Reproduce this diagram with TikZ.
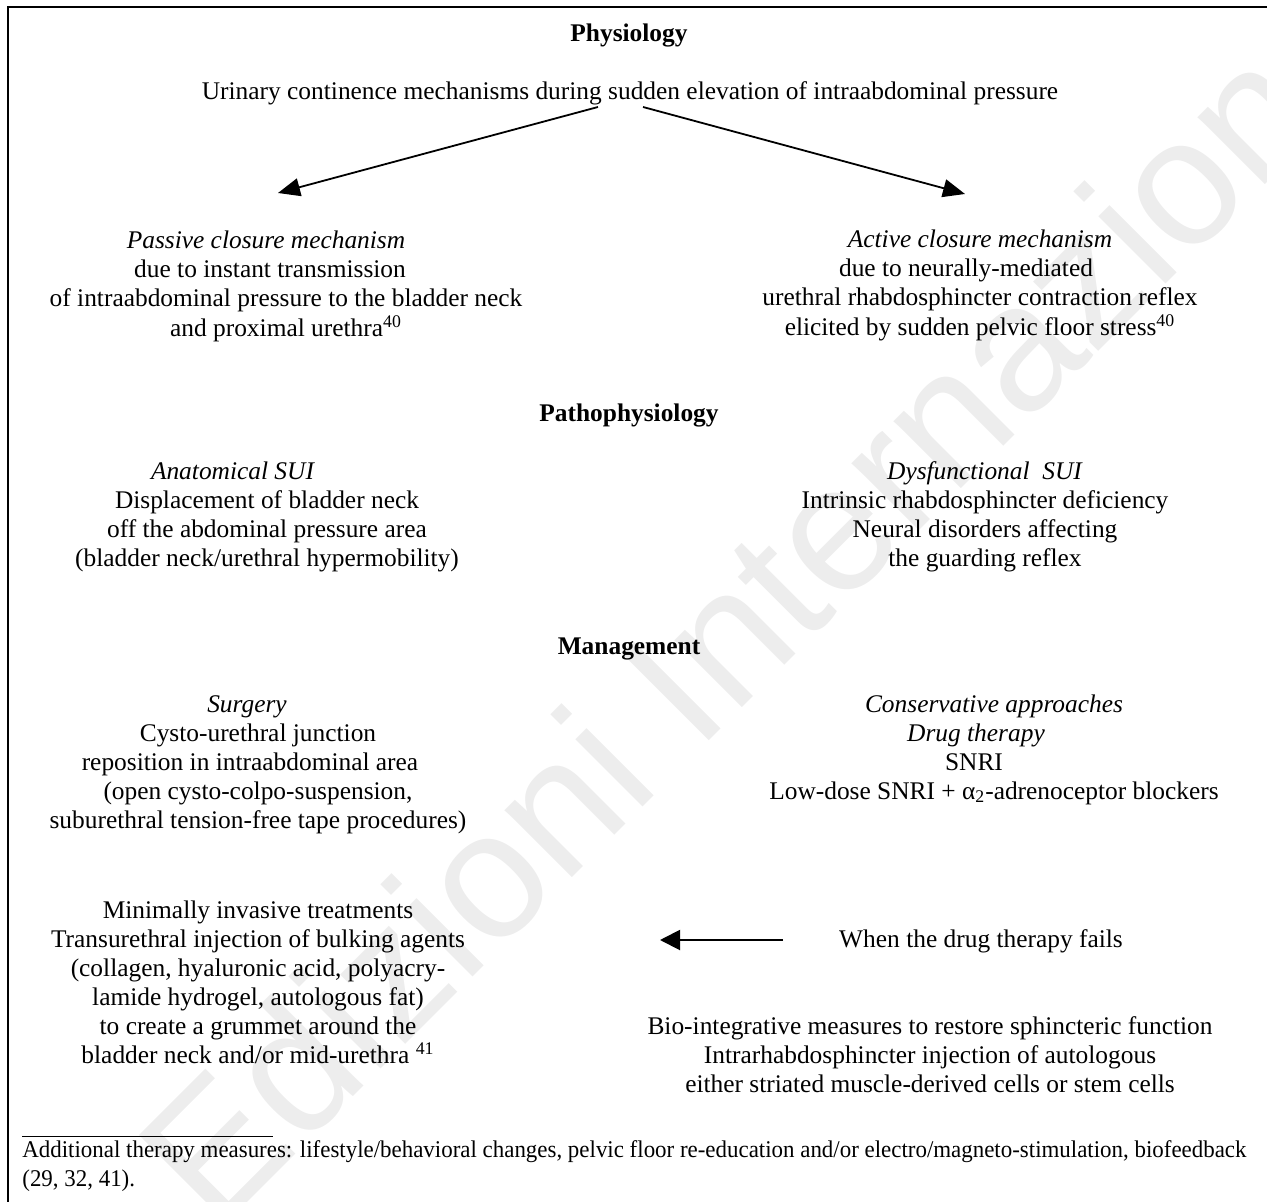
\documentclass[tikz,border=0pt]{standalone}
\usepackage{fontspec}
\setmainfont{Liberation Serif}
\newfontfamily\wmfont{Liberation Sans}
\usepackage{graphicx}
\usetikzlibrary{arrows.meta}
\newcommand\blk[1]{\begin{tabular}[t]{@{}c@{}}#1\end{tabular}}
\begin{document}
\begin{tikzpicture}[x=0.5pt,y=-0.5pt,
  txt/.style={inner sep=0pt, anchor=base, font=\fontsize{12.7}{14.5}\selectfont},
  head/.style={inner sep=0pt, anchor=base, font=\fontsize{12.7}{14.5}\selectfont\bfseries},
  arr/.style={line width=0.9pt, -{Triangle[length=11pt,width=9pt]}},
  harr/.style={line width=1pt, -{Triangle[length=10pt,width=10pt]}},
  wm/.style={inner sep=0pt, anchor=base, rotate=45, text=black!7, font=\fontsize{90}{90}\wmfont}]
\useasboundingbox (0,0) rectangle (1267,1202);
% watermark
\node[wm] (wmark) at (836,614) {Edizioni Internazionali};
% frame
\draw[line width=0.6pt] (8,1202) -- (8,7) -- (1267,7);
% physiology
\node[head] (phys) at (629,42) {Physiology};
\node[txt] (urin) at (630,100) {Urinary continence mechanisms during sudden elevation of intraabdominal pressure};
\node[txt] (passive) at (286,249) {\blk{\textit{Passive closure mechanism}\hspace*{20pt}\\
 due to instant transmission\hspace*{16pt}\\
 of intraabdominal pressure to the bladder neck\\
 and proximal urethra\textsuperscript{40}}};
\node[txt] (active) at (980,248) {\blk{\textit{Active closure mechanism}\\
 due to neurally-mediated\hspace*{14pt}\\
 urethral rhabdosphincter contraction reflex\\
 elicited by sudden pelvic floor stress\textsuperscript{40}}};
\coordinate (a1s) at (598,107);
\coordinate (a1e) at (278,193);
\coordinate (a2s) at (643,107);
\coordinate (a2e) at (965,194);
\draw[arr] (a1s) -- (a1e);
\draw[arr] (a2s) -- (a2e);
% pathophysiology
\node[head] (patho) at (629,422) {Pathophysiology};
\node[txt] (anat) at (267,480) {\blk{\textit{Anatomical SUI}\hspace*{34pt}\\
 Displacement of bladder neck\\
 off the abdominal pressure area\\
 (bladder neck/urethral hypermobility)}};
\node[txt] (dysf) at (985,480) {\blk{\textit{Dysfunctional\ \ SUI}\\
 Intrinsic rhabdosphincter deficiency\\
 Neural disorders affecting\\
 the guarding reflex}};
% management
\node[head] (mgmt) at (629,654) {Management};
\node[txt] (surg) at (258,712) {\blk{\textit{Surgery}\hspace*{11pt}\\
 Cysto-urethral junction\\
 reposition in intraabdominal area\hspace*{8pt}\\
 (open cysto-colpo-suspension,\\
 suburethral tension-free tape procedures)}};
\node[txt] (cons) at (994,712) {\blk{\textit{Conservative approaches}\\
 \textit{Drug therapy}\hspace*{18pt}\\
 SNRI\hspace*{20pt}\\
 Low-dose SNRI + α\textsubscript{2}-adrenoceptor blockers}};
\node[txt] (mini) at (258,918) {\blk{Minimally invasive treatments\\
 Transurethral injection of bulking agents\\
 (collagen, hyaluronic acid, polyacry-\\
 lamide hydrogel, autologous fat)\\
 to create a grummet around the\\
 bladder neck and/or mid-urethra \textsuperscript{41}}};
\node[txt] (when) at (981,947) {When the drug therapy fails};
\coordinate (hs) at (783,940);
\coordinate (he) at (660,940);
\draw[harr] (hs) -- (he);
\node[txt] (bio) at (930,1034) {\blk{Bio-integrative measures to restore sphincteric function\\
 Intrarhabdosphincter injection of autologous\\
 either striated muscle-derived cells or stem cells}};
% footnote
\coordinate (fl1) at (22,1136);
\coordinate (fl2) at (273,1136);
\draw[line width=0.4pt] (fl1) -- (fl2);
\node[inner sep=0pt, anchor=base west, font=\fontsize{12}{14.5}\selectfont] (foot) at (22,1157)
 {\resizebox{612pt}{\height}{\begin{tabular}[t]{@{}l@{}}Additional therapy measures: lifestyle/behavioral changes, pelvic floor re-education and/or electro/magneto-stimulation, biofeedback\\(29, 32, 41).\end{tabular}}};
\end{tikzpicture}
\end{document}
